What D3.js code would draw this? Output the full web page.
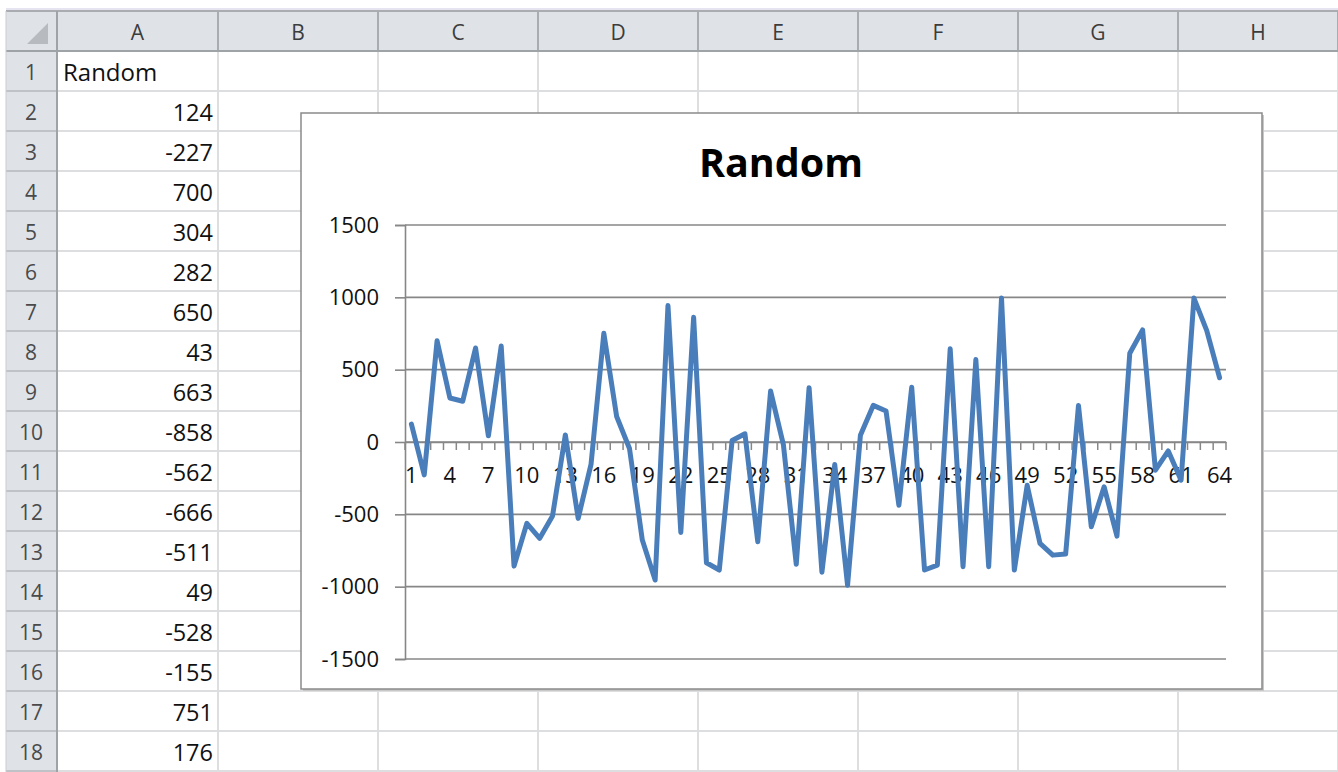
<!DOCTYPE html>
<html>
<head>
<meta charset="utf-8">
<script src="https://cdn.jsdelivr.net/npm/d3@7"></script>
<style>
html,body{margin:0;padding:0;background:#fff;overflow:hidden;}
svg{display:block;}
</style>
</head>
<body>
<svg id="c" width="1338" height="772"></svg>
<script>
// ---- data ----
const seriesName = "Random";
const values = [124,-227,700,304,282,650,43,663,-858,-562,-666,-511,49,-528,-155,751,176,
  -45,-678,-954,943,-625,862,-835,-885,10,57,-690,352,-20,-845,375,-900,-155,-990,46,253,214,
  -437,379,-885,-851,644,-862,570,-862,995,-885,-299,-701,-782,-775,253,-586,-310,-651,614,775,
  -195,-62,-264,995,770,444];
const categories = values.map((d,i)=>i+1);
const yTicks = [-1500,-1000,-500,0,500,1000,1500];
const columnLetters = ["A","B","C","D","E","F","G","H"];
const rowNumbers = d3.range(1,19);
const cellValues = values.slice(0,17);

const svg = d3.select("#c");
const font = "'Open Sans','Noto Sans',sans-serif";

// ---- spreadsheet grid ----
const colEdges = [57,218,378,538,698,858,1018,1178,1338];
const headerTop = 11, headerBottom = 51, rowH = 40;
const rowScale = d3.scaleLinear().domain([1,19]).range([headerBottom, headerBottom+18*rowH]);

svg.append("rect").attr("x",6).attr("y",headerTop).attr("width",1338-6).attr("height",headerBottom-headerTop).attr("fill","#dfe3e8");
svg.append("rect").attr("x",6).attr("y",headerTop).attr("width",57-6).attr("height",772-headerTop).attr("fill","#dfe3e8");
svg.append("line").attr("x1",6).attr("x2",1338).attr("y1",9).attr("y2",9).attr("stroke","#e6e4f0").attr("stroke-width",2);
svg.append("path").attr("d","M27,44 L48,23 L48,44 Z").attr("fill","#b7bbc0");

const g = svg.append("g");
rowNumbers.forEach(r=>{
  g.append("line").attr("x1",57).attr("x2",1338).attr("y1",rowScale(r+1)).attr("y2",rowScale(r+1))
   .attr("stroke","#dcdee0").attr("stroke-width",2);
});
colEdges.slice(1).forEach(x=>{
  g.append("line").attr("x1",x).attr("x2",x).attr("y1",headerBottom).attr("y2",772)
   .attr("stroke","#dcdee0").attr("stroke-width",2);
});
colEdges.forEach((x,i)=>{
  svg.append("line").attr("x1",x).attr("x2",x).attr("y1",headerTop).attr("y2",headerBottom)
   .attr("stroke","#a9adb2").attr("stroke-width",2);
});
rowNumbers.forEach(r=>{
  svg.append("line").attr("x1",6).attr("x2",57).attr("y1",rowScale(r+1)).attr("y2",rowScale(r+1))
   .attr("stroke","#bfc3c8").attr("stroke-width",2);
});
svg.append("line").attr("x1",6).attr("x2",1338).attr("y1",headerTop).attr("y2",headerTop).attr("stroke","#a9adb2").attr("stroke-width",2);
svg.append("line").attr("x1",6).attr("x2",1338).attr("y1",headerBottom).attr("y2",headerBottom).attr("stroke","#9ea3a8").attr("stroke-width",2);
svg.append("line").attr("x1",6).attr("x2",6).attr("y1",headerTop).attr("y2",772).attr("stroke","#c9ccd0").attr("stroke-width",1);
svg.append("line").attr("x1",57).attr("x2",57).attr("y1",headerTop).attr("y2",772).attr("stroke","#9ea3a8").attr("stroke-width",2);

columnLetters.forEach((c,i)=>{
  svg.append("text").attr("x",(colEdges[i]+colEdges[i+1])/2).attr("y",40)
    .attr("text-anchor","middle").attr("font-family",font).attr("font-size",21).attr("fill","#3c3c3c").text(c);
});
rowNumbers.forEach(r=>{
  svg.append("text").attr("x",31).attr("y",rowScale(r)+29)
    .attr("text-anchor","middle").attr("font-family",font).attr("font-size",21).attr("fill","#4a4a4a").text(r);
});
svg.append("text").attr("x",63).attr("y",rowScale(1)+30).attr("font-family",font).attr("font-size",24).attr("fill","#111").text(seriesName);
cellValues.forEach((v,i)=>{
  svg.append("text").attr("x",213).attr("y",rowScale(i+2)+30).attr("text-anchor","end")
    .attr("font-family",font).attr("font-size",23.5).attr("fill","#111").text(v);
});

// ---- chart ----
const box = {x:301,y:113,w:961,h:576};
svg.append("rect").attr("x",box.x+2).attr("y",box.y+2).attr("width",box.w).attr("height",box.h).attr("fill","#c8c8c8");
svg.append("rect").attr("x",box.x).attr("y",box.y).attr("width",box.w).attr("height",box.h)
  .attr("fill","#fff").attr("stroke","#8a8a8a").attr("stroke-width",1.5);

svg.append("text").attr("x",781).attr("y",177).attr("text-anchor","middle")
  .attr("font-family",font).attr("font-weight","bold").attr("font-size",39.5).attr("fill","#000").text(seriesName);

const plot = {l:405,r:1226,t:225,b:659};
const x = d3.scaleBand().domain(categories).range([plot.l,plot.r]);
const y = d3.scaleLinear().domain([-1500,1500]).range([plot.b,plot.t]);

svg.append("g").selectAll("line").data(yTicks).join("line")
  .attr("x1",plot.l).attr("x2",plot.r).attr("y1",d=>y(d)).attr("y2",d=>y(d))
  .attr("stroke","#878787").attr("stroke-width",1.6);

const yAxis = svg.append("g").attr("transform",`translate(${plot.l},0)`)
  .call(d3.axisLeft(y).tickValues(yTicks).tickSize(10).tickPadding(16).tickFormat(d=>String(d)));
yAxis.select(".domain").attr("stroke","#878787").attr("stroke-width",1.6);
yAxis.selectAll(".tick line").attr("stroke","#878787").attr("stroke-width",1.6);
yAxis.selectAll("text").attr("font-family",font).attr("font-size",22).attr("fill","#111");

const xAxis = svg.append("g").attr("transform",`translate(0,${y(0)})`)
  .call(d3.axisBottom(x).tickValues(categories.filter(d=>(d-1)%3===0)).tickSize(0).tickPadding(25));
xAxis.select(".domain").attr("stroke","#878787").attr("stroke-width",1.6);
xAxis.selectAll("text").attr("font-family",font).attr("font-size",22).attr("fill","#111");
const bounds = categories.map(c=>x(c)).concat([plot.r]);
svg.append("g").selectAll("line").data(bounds).join("line")
  .attr("x1",d=>d).attr("x2",d=>d).attr("y1",y(0)).attr("y2",y(0)+8)
  .attr("stroke","#878787").attr("stroke-width",1.5);

const line = d3.line().x((d,i)=>x(categories[i])+x.bandwidth()/2).y(d=>y(d));
svg.append("path").datum(values).attr("d",line)
  .attr("fill","none").attr("stroke","#4a7ebb").attr("stroke-width",5)
  .attr("stroke-linejoin","round").attr("stroke-linecap","round");
</script>
</body>
</html>
